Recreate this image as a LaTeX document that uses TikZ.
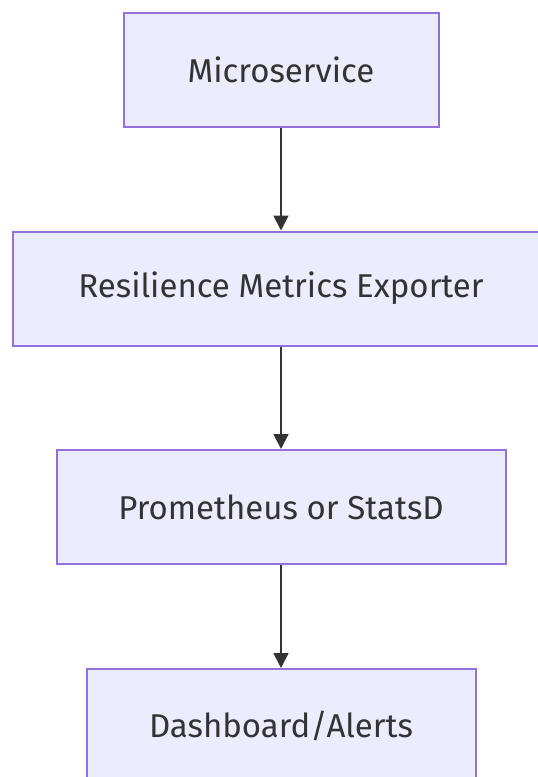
\documentclass[tikz,border=0pt]{standalone}
\usepackage{fontspec}
\setmainfont{Fira Sans}
\usetikzlibrary{arrows.meta}
\definecolor{boxfill}{HTML}{ECECFF}
\definecolor{boxline}{HTML}{9370DB}
\definecolor{ink}{HTML}{333333}

\begin{document}
\begin{tikzpicture}[x=1pt, y=-1pt,
  flowbox/.style={draw=boxline, fill=boxfill, line width=2pt, text=ink,
    font=\fontsize{33}{38}\selectfont, inner sep=0pt, minimum height=114pt},
  flowarrow/.style={draw=ink, line width=1.8pt, -{Triangle[length=15pt, width=15pt]}}]
  % ---- page frame (the exporter box runs off the right edge) ----
  \useasboundingbox (0,0) rectangle (538,777);
  \clip (0,0) rectangle (538,777);

  % ---- boxes ----
  \node[flowbox, minimum width=315pt] (micro)    at (281,69.5)  {Microservice};
  \node[flowbox, minimum width=536pt] (exporter) at (281,288.5) {Resilience Metrics Exporter};
  \node[flowbox, minimum width=449pt] (prom)     at (281,507)   {Prometheus or StatsD};
  \node[flowbox, minimum width=389pt] (dash)     at (281,726)   {Dashboard/Alerts};

  % ---- arrows ----
  \draw[flowarrow] (micro) -- (exporter);
  \draw[flowarrow] (exporter) -- (prom);
  \draw[flowarrow] (prom) -- (dash);
\end{tikzpicture}
\end{document}
